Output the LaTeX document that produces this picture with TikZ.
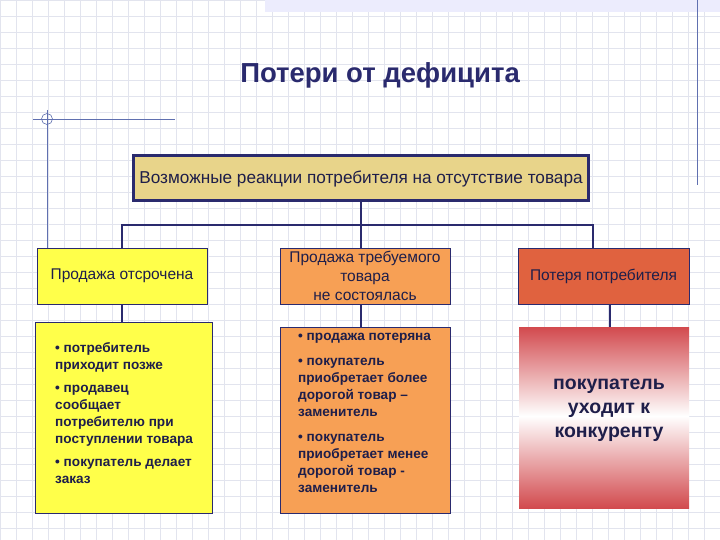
\documentclass[tikz,border=0pt]{standalone}
\usepackage{fontspec}
\setmainfont{Liberation Sans}
\definecolor{navy}{HTML}{2A2A6E}
\definecolor{txt}{HTML}{1E1E4A}
\definecolor{tan}{HTML}{E8D48A}
\definecolor{yel}{HTML}{FFFF4A}
\definecolor{ora}{HTML}{F7A055}
\definecolor{red1}{HTML}{E0623F}
\definecolor{redg}{HTML}{D24A4E}
\definecolor{gridc}{HTML}{E2E4EE}
\definecolor{deco}{HTML}{6070B0}
\begin{document}
\begin{tikzpicture}[x=1pt,y=-1pt,
  box/.style={draw=navy,line width=0.8pt,inner sep=0pt},
  conn/.style={draw=navy,line width=1.3pt},
  lbl/.style={font=\fontsize{15.5}{19}\selectfont,text=txt,align=center},
  body/.style={font=\bfseries\fontsize{13.6}{17}\selectfont,text=txt,align=left,anchor=north west,inner sep=0pt}]
\useasboundingbox (0,0) rectangle (720,540);
\fill[white] (0,0) rectangle (720,540);
\foreach \i in {0,16,...,720} \draw[gridc,line width=0.5pt] (\i,0) -- (\i,540);
\foreach \i in {0,16,...,540} \draw[gridc,line width=0.5pt] (0,\i) -- (720,\i);
\fill[gridc!70!blue!20] (265,0) rectangle (720,12);
\draw[deco,line width=0.6pt] (697,0) -- (697,185);
\draw[deco,line width=0.6pt] (33,119) -- (175,119);
\draw[deco,line width=0.6pt] (47,110) -- (47,248);
\draw[deco,line width=0.6pt] (47,119) circle (5.5);
\node[font=\bfseries\fontsize{27.5}{30}\selectfont,text=navy] (title) at (380,75) {Потери от дефицита};
\node[box,draw=navy,line width=3pt,fill=tan,minimum width=455,minimum height=45,lbl,font=\fontsize{17.2}{18}\selectfont] (top) at (361,178.5) {Возможные реакции потребителя на отсутствие товара};
\node[box,fill=yel,minimum width=170,minimum height=56,lbl] (b1) at (122,276) {Продажа отсрочена};
\node[box,fill=ora,minimum width=170,minimum height=56,lbl] (b2) at (365,276) {Продажа требуемого\\товара\\не состоялась};
\node[box,fill=red1,minimum width=171,minimum height=56,lbl] (b3) at (603.5,276) {Потеря потребителя};
\coordinate (j) at (361,225);
\draw[conn] (top.south -| j) -- (j);
\draw[conn] (122,248) -- (122,225) -- (593,225) -- (593,248);
\draw[conn] (j) -- (361,248);
\node[box,fill=yel,minimum width=177,minimum height=191] (c1) at (123.5,417.5) {};
\node[box,fill=ora,minimum width=170,minimum height=186] (c2) at (365,420) {};
\shade[top color=redg,bottom color=white] (519,327) rectangle (689,416);
\shade[top color=white,bottom color=redg] (519,416) rectangle (689,508);
\node[box,draw=none,minimum width=170,minimum height=181] (c3) at (604,417.5) {};
\draw[conn] (122,304) -- (122,322);
\draw[conn] (361,304) -- (361,327);
\draw[conn] (610,304) -- (610,327);
\node[body] (t1) at (55,342) {• потребитель\\приходит позже\\[6pt]• продавец\\сообщает\\потребителю при\\поступлении товара\\[6pt]• покупатель делает\\заказ};
\node[body] (t2) at (298,333) {• продажа потеряна\\[8pt]• покупатель\\приобретает более\\дорогой товар –\\заменитель\\[8pt]• покупатель\\приобретает менее\\дорогой товар -\\заменитель};
\node[font=\bfseries\fontsize{19.5}{24}\selectfont,text=txt,align=center] (t3) at (609,410) {покупатель\\уходит к\\конкуренту};
\end{tikzpicture}
\end{document}
